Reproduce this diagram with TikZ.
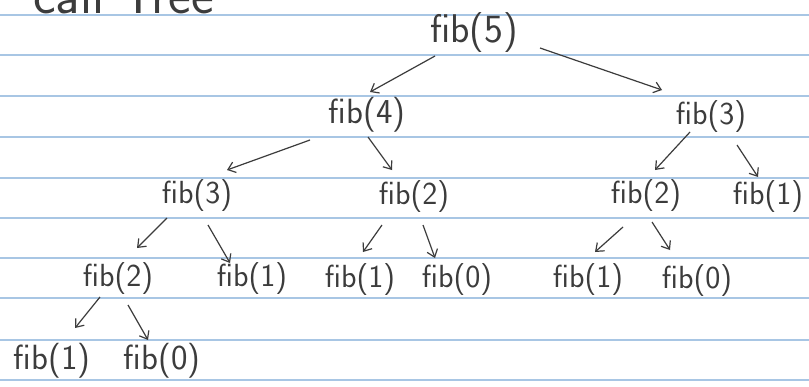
\documentclass[tikz,border=0pt]{standalone}
\usetikzlibrary{arrows.meta}
\definecolor{ink}{HTML}{3C3C3C}
\definecolor{rule}{RGB}{168,198,228}
\tikzset{
  call/.style={font=\sffamily\fontsize{32}{32}\selectfont, text=ink, inner sep=0pt},
  callbig/.style={call, font=\sffamily\fontsize{40}{40}\selectfont},
  callmid/.style={call, font=\sffamily\fontsize{35}{35}\selectfont},
  arr/.style={draw=ink, line width=1.2pt, -{Straight Barb[length=7pt,width=11pt]}},
  paperline/.style={draw=rule, line width=1.3pt}
}
\begin{document}
\begin{tikzpicture}[x=1pt,y=-1pt]
\useasboundingbox (0,0) rectangle (809,386);
\clip (0,0) rectangle (809,386);
\fill[white] (0,0) rectangle (809,386);
% ruled paper
\foreach \yy in {15,55,96,137,178,218,258,298,340,380}
  \draw[paperline] (0,\yy) -- (809,\yy);
% partially visible heading (cut off by the top edge, as in the reference)
\node[anchor=base west, font=\sffamily\fontsize{54}{54}\selectfont, text=ink, inner sep=0pt] (title) at (33,13) {call Tree};
% nodes
\node[callbig] (f5) at (474,33) {fib(5)};
\node[callmid] (f4) at (367,115) {fib(4)};
\node[call] (f3r) at (711,117) {fib(3)};
\node[call] (f3l) at (197,196) {fib(3)};
\node[call] (f2m) at (414,197) {fib(2)};
\node[call] (f2r) at (646,196) {fib(2)};
\node[call] (f1r) at (768,197) {fib(1)};
\node[call] (f2l) at (118,279) {fib(2)};
\node[call] (f1a) at (252,279) {fib(1)};
\node[call] (f1b) at (360,280) {fib(1)};
\node[call] (f0a) at (457,280) {fib(0)};
\node[call] (f1c) at (588,280) {fib(1)};
\node[call] (f0b) at (697,281) {fib(0)};
\node[callmid] (f1d) at (52,361) {fib(1)};
\node[callmid] (f0c) at (162,361) {fib(0)};
% connectors
\draw[arr] ([shift={(-39,23)}]f5.center) -- ([shift={(3,-23)}]f4.center);
\draw[arr] ([shift={(66,15)}]f5.center) -- ([shift={(-49,-27)}]f3r.center);
\draw[arr] ([shift={(-57,25)}]f4.center) -- ([shift={(30,-26)}]f3l.center);
\draw[arr] ([shift={(1,22)}]f4.center) -- ([shift={(-22,-27)}]f2m.center);
\draw[arr] ([shift={(-21,15)}]f3r.center) -- ([shift={(9,-26)}]f2r.center);
\draw[arr] ([shift={(26,28)}]f3r.center) -- ([shift={(-10,-20)}]f1r.center);
\draw[arr] ([shift={(-30,22)}]f3l.center) -- ([shift={(19,-31)}]f2l.center);
\draw[arr] ([shift={(11,29)}]f3l.center) -- ([shift={(-22,-16)}]f1a.center);
\draw[arr] ([shift={(-32,28)}]f2m.center) -- ([shift={(3,-28)}]f1b.center);
\draw[arr] ([shift={(9,28)}]f2m.center) -- ([shift={(-22,-22)}]f0a.center);
\draw[arr] ([shift={(-23,31)}]f2r.center) -- ([shift={(7,-28)}]f1c.center);
\draw[arr] ([shift={(6,26)}]f2r.center) -- ([shift={(-27,-31)}]f0b.center);
\draw[arr] ([shift={(-18,18)}]f2l.center) -- ([shift={(23,-33)}]f1d.center);
\draw[arr] ([shift={(10,26)}]f2l.center) -- ([shift={(-14,-21)}]f0c.center);
\end{tikzpicture}
\end{document}
